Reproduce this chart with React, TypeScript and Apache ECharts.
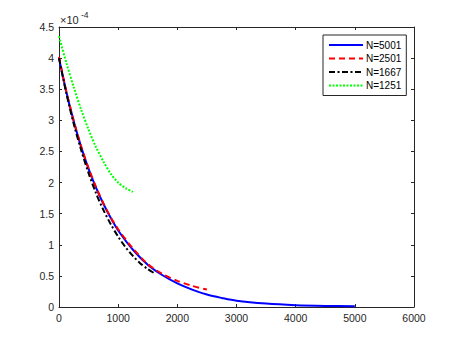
import React, { useEffect, useRef } from "react";
import * as echarts from "echarts";

// values are in units of 1e-4 (axis shows "×10^-4")
const blueX = [0, 125, 250, 375, 500, 625, 750, 875, 1000, 1250, 1500, 1750, 2000, 2250, 2500, 2750, 3000, 3500, 4000, 4500, 5000];
const blueY = [4.0, 3.45, 2.98, 2.57, 2.22, 1.92, 1.66, 1.43, 1.23, 0.92, 0.68, 0.51, 0.38, 0.28, 0.2, 0.145, 0.1, 0.055, 0.03, 0.018, 0.012];

const redX = [0, 125, 250, 375, 500, 625, 750, 875, 1000, 1250, 1500, 1750, 2000, 2250, 2500];
const redY = [4.02, 3.46, 2.99, 2.58, 2.23, 1.93, 1.67, 1.44, 1.25, 0.94, 0.69, 0.53, 0.42, 0.34, 0.28];

const blackX = [0, 125, 250, 375, 500, 625, 750, 875, 1000, 1125, 1250, 1375, 1500, 1600];
const blackY = [4.0, 3.43, 2.94, 2.52, 2.15, 1.83, 1.56, 1.33, 1.13, 0.96, 0.82, 0.7, 0.61, 0.55];

const greenX = [0, 125, 250, 375, 500, 625, 750, 875, 1000, 1125, 1250];
const greenY = [4.35, 3.92, 3.53, 3.17, 2.85, 2.57, 2.34, 2.14, 2.0, 1.91, 1.85];

const seriesNames = ["N=5001", "N=2501", "N=1667", "N=1251"];
const xTicks = { min: 0, max: 6000, interval: 1000 };
const yTicks = { min: 0, max: 4.5, interval: 0.5 };

const FONT = "Liberation Sans, Arial, Helvetica, sans-serif";
const AXIS = "#262626";

function pairs(xs: number[], ys: number[]) {
  return xs.map((x, i) => [x, ys[i]]);
}

export default function App() {
  const ref = useRef<HTMLDivElement>(null);
  useEffect(() => {
    if (!ref.current) return;
    const chart = echarts.init(ref.current, null, { renderer: "svg" });
    const baseAxis = {
      axisLine: { show: true, onZero: false, lineStyle: { color: AXIS, width: 1 } },
      axisTick: { show: true, inside: true, length: 3, lineStyle: { color: AXIS, width: 1 } },
      splitLine: { show: false },
    };
    const lineCommon = {
      symbol: "none", legendIcon: "none", smooth: 0.3, xAxisIndex: 0, yAxisIndex: 0,
    };
    chart.setOption({
      animation: false,
      backgroundColor: "#ffffff",
      grid: { left: 59, top: 27, width: 355, height: 280, containLabel: false },
      xAxis: [
        {
          type: "value", position: "bottom", ...xTicks, ...baseAxis,
          axisLabel: {
            show: true, margin: 5, color: AXIS, fontSize: 10.5, fontFamily: FONT,
            formatter: (v: number) => String(v),
          },
        },
        {
          type: "value", position: "top", ...xTicks, ...baseAxis,
          axisLabel: { show: false },
        },
      ],
      yAxis: [
        {
          type: "value", position: "left", ...yTicks, ...baseAxis,
          axisLabel: {
            show: true, margin: 5, color: AXIS, fontSize: 10.5, fontFamily: FONT,
            formatter: (v: number) => String(v),
          },
        },
        {
          type: "value", position: "right", ...yTicks, ...baseAxis,
          axisLabel: { show: false },
        },
      ],
      legend: {
        left: 323,
        top: 35,
        orient: "vertical",
        data: seriesNames,
        itemWidth: 34,
        itemHeight: 12,
        itemGap: 1.5,
        padding: [4, 5, 4, 5],
        borderColor: AXIS,
        borderWidth: 1,
        backgroundColor: "#ffffff",
        itemStyle: { opacity: 0 },
        textStyle: { fontSize: 10, fontFamily: FONT, color: "#000", lineHeight: 12, padding: [0, 0, 0, -2] },
      },
      graphic: [
        { type: "text", left: 60, top: 14, style: { text: "×10", fontSize: 11, fontFamily: FONT, fill: AXIS } },
        { type: "text", left: 81, top: 10, style: { text: "-4", fontSize: 8.5, fontFamily: FONT, fill: AXIS } },
      ],
      series: [
        {
          name: seriesNames[0], type: "line", ...lineCommon,
          data: pairs(blueX, blueY),
          lineStyle: { color: "#0000ff", width: 2, type: "solid" },
          itemStyle: { color: "#0000ff" },
        },
        {
          name: seriesNames[1], type: "line", ...lineCommon,
          data: pairs(redX, redY),
          lineStyle: { color: "#ff0000", width: 2, type: [6, 4] },
          itemStyle: { color: "#ff0000" },
        },
        {
          name: seriesNames[2], type: "line", ...lineCommon,
          data: pairs(blackX, blackY),
          lineStyle: { color: "#000000", width: 2, type: [6, 2.5, 2, 2.5] },
          itemStyle: { color: "#000000" },
        },
        {
          name: seriesNames[3], type: "line", ...lineCommon,
          data: pairs(greenX, greenY),
          lineStyle: { color: "#00ff00", width: 2, type: [2, 1.5] },
          itemStyle: { color: "#00ff00" },
        },
      ],
    });
    return () => chart.dispose();
  }, []);
  return (
    <div
      ref={ref}
      style={{ position: "fixed", left: 0, top: 0, width: 457, height: 344, background: "#fff" }}
    />
  );
}
